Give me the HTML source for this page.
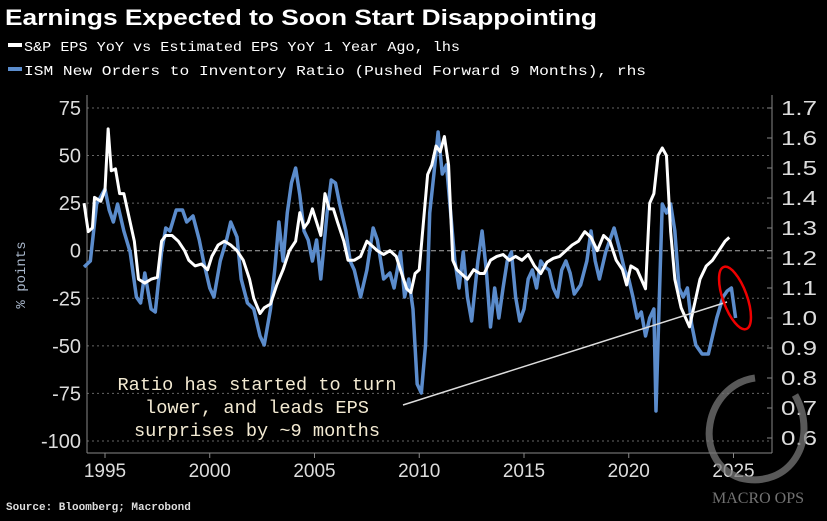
<!DOCTYPE html>
<html><head><meta charset="utf-8"><style>
body{margin:0;background:#000;width:827px;height:521px;overflow:hidden;font-family:"Liberation Sans",sans-serif}
svg{display:block}
</style></head><body>
<svg id="chart" width="827" height="521" viewBox="0 0 827 521">
<rect x="0" y="0" width="827" height="521" fill="#000"/>
<text x="5" y="25" fill="#fff" font-size="22" font-weight="bold" textLength="592" lengthAdjust="spacingAndGlyphs">Earnings Expected to Soon Start Disappointing</text>
<g>
<rect x="8" y="43" width="14" height="4" fill="#fff"/>
<text x="24" y="51" fill="#fff" font-size="14" font-family="Liberation Mono, monospace" textLength="436" lengthAdjust="spacingAndGlyphs">S&amp;P EPS YoY vs Estimated EPS YoY 1 Year Ago, lhs</text>
<rect x="8" y="67" width="14" height="4" fill="#5b8ccc"/>
<text x="24" y="75" fill="#fff" font-size="14" font-family="Liberation Mono, monospace" textLength="622" lengthAdjust="spacingAndGlyphs">ISM New Orders to Inventory Ratio (Pushed Forward 9 Months), rhs</text>
</g>
<g id="grid"></g>
<g id="axes"></g>
<g id="series"></g>
<line x1="403" y1="405" x2="727" y2="302" stroke="#ddd" stroke-width="1.5"/>
<ellipse cx="735" cy="298" rx="12" ry="33" transform="rotate(-20 735 298)" fill="none" stroke="#e00" stroke-width="2.5"/>
<g font-family="Liberation Mono, monospace" font-size="18" fill="#f3ead2" text-anchor="middle">
<text x="257" y="390" textLength="279" lengthAdjust="spacingAndGlyphs">Ratio has started to turn</text>
<text x="257" y="413" textLength="224" lengthAdjust="spacingAndGlyphs">lower, and leads EPS</text>
<text x="257" y="436" textLength="246" lengthAdjust="spacingAndGlyphs">surprises by ~9 months</text>
</g>
<text x="6" y="510" fill="#ddd" font-size="11" font-weight="bold" font-family="Liberation Mono, monospace">Source: Bloomberg; Macrobond</text>
<g opacity="0.75">
<path d="M755 378 C705 385 690 460 740 478 C790 490 820 440 795 395" fill="none" stroke="#777" stroke-width="7"/>
<text x="758" y="503" fill="#999" font-size="16" font-family="Liberation Serif, serif" text-anchor="middle">MACRO OPS</text>
</g>
</svg>
<script>
const yearsW=[1994.0,1994.2,1994.4,1994.5,1994.8,1995.0,1995.15,1995.3,1995.5,1995.7,1995.9,1996.1,1996.4,1996.6,1996.9,1997.2,1997.5,1997.7,1997.9,1998.2,1998.5,1998.8,1999.0,1999.3,1999.6,1999.9,2000.1,2000.4,2000.7,2001.0,2001.3,2001.6,2001.9,2002.1,2002.4,2002.6,2002.9,2003.2,2003.5,2003.8,2004.1,2004.3,2004.5,2004.7,2004.9,2005.1,2005.3,2005.5,2005.7,2005.9,2006.1,2006.4,2006.6,2006.9,2007.2,2007.5,2007.8,2008.0,2008.3,2008.6,2008.9,2009.1,2009.4,2009.6,2009.8,2010.0,2010.2,2010.4,2010.6,2010.8,2011.0,2011.2,2011.4,2011.6,2011.8,2012.0,2012.3,2012.6,2012.9,2013.1,2013.4,2013.7,2014.0,2014.3,2014.6,2014.9,2015.2,2015.5,2015.8,2016.1,2016.4,2016.7,2017.0,2017.3,2017.6,2017.9,2018.2,2018.5,2018.8,2019.1,2019.4,2019.7,2019.9,2020.1,2020.4,2020.6,2020.8,2021.0,2021.2,2021.4,2021.6,2021.8,2022.0,2022.2,2022.5,2022.7,2022.9,2023.1,2023.4,2023.7,2024.0,2024.3,2024.6,2024.8];
const epsValues=[25,10,12,28,26,32,64,42,43,30,30,20,5,-15,-17,-15,-14,5,8,8,5,0,-5,-8,-7,-10,-3,3,5,3,0,-5,-15,-25,-33,-30,-28,-18,-10,0,5,20,12,15,22,15,8,30,22,22,15,5,-5,-5,-3,5,2,0,-2,0,-3,-10,-20,-22,-12,-10,15,40,45,55,52,60,45,-5,-10,-12,-15,-10,-12,-12,-5,-3,-2,-5,-3,-5,-2,-8,-12,-6,-4,-3,0,3,5,10,7,0,8,5,-5,-10,-18,-8,-10,-15,-20,25,30,50,54,50,10,-15,-30,-35,-40,-30,-15,-8,-5,0,5,7];
const yearsB=[1994.0,1994.3,1994.6,1995.0,1995.2,1995.4,1995.6,1995.9,1996.2,1996.5,1996.7,1996.9,1997.2,1997.4,1997.7,1997.9,1998.1,1998.4,1998.7,1998.9,1999.2,1999.5,1999.7,2000.0,2000.2,2000.5,2000.8,2001.0,2001.3,2001.5,2001.8,2002.1,2002.4,2002.6,2002.9,2003.1,2003.3,2003.5,2003.7,2003.9,2004.1,2004.3,2004.5,2004.7,2004.9,2005.1,2005.3,2005.6,2005.8,2006.0,2006.2,2006.5,2006.7,2006.9,2007.2,2007.5,2007.8,2008.0,2008.3,2008.6,2008.8,2009.1,2009.3,2009.5,2009.7,2009.9,2010.1,2010.3,2010.5,2010.7,2010.9,2011.1,2011.3,2011.5,2011.7,2011.9,2012.1,2012.3,2012.5,2012.8,2013.0,2013.2,2013.4,2013.6,2013.8,2014.0,2014.2,2014.4,2014.6,2014.8,2015.0,2015.2,2015.4,2015.6,2015.8,2016.0,2016.2,2016.4,2016.6,2016.8,2017.0,2017.2,2017.4,2017.7,2018.0,2018.2,2018.4,2018.6,2018.9,2019.1,2019.3,2019.6,2019.8,2020.0,2020.2,2020.4,2020.6,2020.8,2021.0,2021.2,2021.3,2021.5,2021.6,2021.8,2022.0,2022.2,2022.4,2022.6,2022.8,2023.0,2023.2,2023.5,2023.8,2024.0,2024.2,2024.5,2024.7,2024.9,2025.1];
const ismValues=[1.17,1.19,1.38,1.43,1.36,1.32,1.38,1.29,1.22,1.07,1.05,1.15,1.03,1.02,1.22,1.30,1.29,1.36,1.36,1.32,1.34,1.26,1.19,1.10,1.07,1.19,1.26,1.32,1.27,1.13,1.05,1.03,0.94,0.91,1.03,1.16,1.32,1.19,1.35,1.45,1.50,1.41,1.29,1.26,1.19,1.26,1.13,1.35,1.46,1.45,1.38,1.29,1.19,1.16,1.07,1.16,1.30,1.26,1.13,1.15,1.10,1.22,1.07,1.13,1.03,0.78,0.75,0.91,1.35,1.48,1.62,1.48,1.51,1.35,1.19,1.10,1.22,1.07,0.99,1.19,1.29,1.16,0.97,1.10,1.00,1.10,1.19,1.22,1.07,0.99,1.03,1.13,1.16,1.10,1.19,1.17,1.16,1.10,1.07,1.16,1.19,1.15,1.08,1.11,1.19,1.29,1.19,1.13,1.22,1.26,1.30,1.22,1.16,1.13,1.07,1.00,1.02,0.94,1.00,1.03,0.69,1.16,1.38,1.35,1.38,1.29,1.10,1.07,1.10,0.98,0.91,0.88,0.88,0.94,1.00,1.07,1.09,1.10,1.00];
const leftTicks=[75,50,25,0,-25,-50,-75,-100];
const rightTicks=[1.7,1.6,1.5,1.4,1.3,1.2,1.1,1.0,0.9,0.8,0.7,0.6];
const xTicks=[1995,2000,2005,2010,2015,2020,2025];

const NS="http://www.w3.org/2000/svg";
const X=y=>105+(y-1995)*20.95;
const YL=v=>250.7-v*1.903;
const YR=v=>108+(1.7-v)*300;
const PL=87,PR=772,PT=95,PB=453;
function mk(tag,attrs,parent){const e=document.createElementNS(NS,tag);for(const k in attrs)e.setAttribute(k,attrs[k]);parent.appendChild(e);return e;}
const grid=document.getElementById('grid'),axes=document.getElementById('axes'),ser=document.getElementById('series');

leftTicks.forEach(t=>{
  const g=mk('line',{x1:PL,x2:PR,y1:YL(t),y2:YL(t),stroke:t===0?'#aaa':'#666','stroke-width':1,'stroke-dasharray':t===0?'5,3':'2,3'},grid);
  
  
  const l=mk('text',{x:81,y:YL(t)+7,fill:'#ddd','font-size':20,'text-anchor':'end'},axes);
  l.textContent=(t<0?'-':'')+Math.abs(t);
  
  
});
rightTicks.forEach(t=>{
  const tk=mk('line',{x1:PR-5,x2:PR,y1:YR(t),y2:YR(t),stroke:'#888'},axes);
  
  
  const l=mk('text',{x:781,y:YR(t)+7,fill:'#ddd','font-size':20,textLength:36,lengthAdjust:'spacingAndGlyphs'},axes);
  l.textContent=t.toFixed(1);
  
  
});
xTicks.forEach(t=>{
  const tk=mk('line',{x1:X(t),x2:X(t),y1:PB,y2:PB+5,stroke:'#888'},axes);
  
  
  const l=mk('text',{x:X(t),y:477,fill:'#ddd','font-size':19,'text-anchor':'middle'},axes);
  l.textContent=t;
  
  
});
const la=mk('line',{x1:PL,x2:PL,y1:PT,y2:PB,stroke:'#888'},axes);


const ra=mk('line',{x1:PR,x2:PR,y1:PT,y2:PB,stroke:'#888'},axes);


const ba=mk('line',{x1:PL,x2:PR,y1:PB,y2:PB,stroke:'#888'},axes);


const yt=mk('text',{x:0,y:0,fill:'#aab8cc','font-size':14,'text-anchor':'middle',transform:'translate(25,275) rotate(-90)','font-family':'Liberation Mono, monospace'},axes);
yt.textContent='% points';



const pb=mk('polyline',{points:yearsB.map((y,i)=>X(y)+','+YR(ismValues[i])).join(' '),fill:'none',stroke:'#5b8ccc','stroke-width':3.5,'stroke-linejoin':'round'},ser);


const pw=mk('polyline',{points:yearsW.map((y,i)=>X(y)+','+YL(epsValues[i])).join(' '),fill:'none',stroke:'#fff','stroke-width':3,'stroke-linejoin':'round'},ser);


</script>
</body></html>
